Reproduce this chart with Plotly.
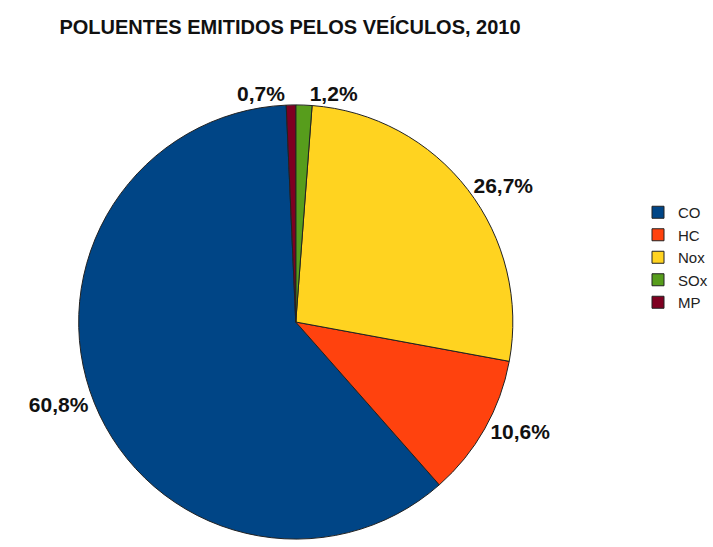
import plotly.graph_objects as go

categories = ["CO", "HC", "Nox", "SOx", "MP"]
values = [60.8, 10.6, 26.7, 1.2, 0.7]
labels_text = ["60,8%", "10,6%", "26,7%", "1,2%", "0,7%"]
colors = ["#004586", "#ff420e", "#ffd320", "#579d1c", "#7e0021"]

W, H = 713, 547
cx, cy, r = 297, 322, 218
FONT = "Liberation Sans Narrow, Arial Narrow, Liberation Sans, sans-serif"

fig = go.Figure(go.Pie(
    labels=categories,
    values=values,
    text=labels_text,
    textinfo="text",
    textposition="outside",
    sort=False,
    direction="counterclockwise",
    rotation=-(values[4] + values[0]) * 3.6,
    marker=dict(colors=colors, line=dict(color="#222222", width=1)),
    textfont=dict(family=FONT, size=21, color="#111111"),
    texttemplate="<b>%{text}</b>",
    domain=dict(x=[(cx - r) / W, (cx + r) / W], y=[1 - (cy + r) / H, 1 - (cy - r) / H]),
    hoverinfo="label+percent",
))

fig.update_layout(
    width=W, height=H,
    margin=dict(l=0, r=0, t=0, b=0),
    paper_bgcolor="white",
    title=dict(text="<b>POLUENTES EMITIDOS PELOS VEÍCULOS, 2010</b>",
               x=290 / W, xanchor="center", y=1 - 27 / H, yanchor="middle",
               font=dict(family=FONT, size=20, color="#111111")),
    legend=dict(x=641 / W, y=1 - 196 / H, xanchor="left", yanchor="top",
                font=dict(family=FONT, size=15, color="#222222"),
                bgcolor="rgba(0,0,0,0)"),
    showlegend=True,
)

fig.write_html("out.html")
